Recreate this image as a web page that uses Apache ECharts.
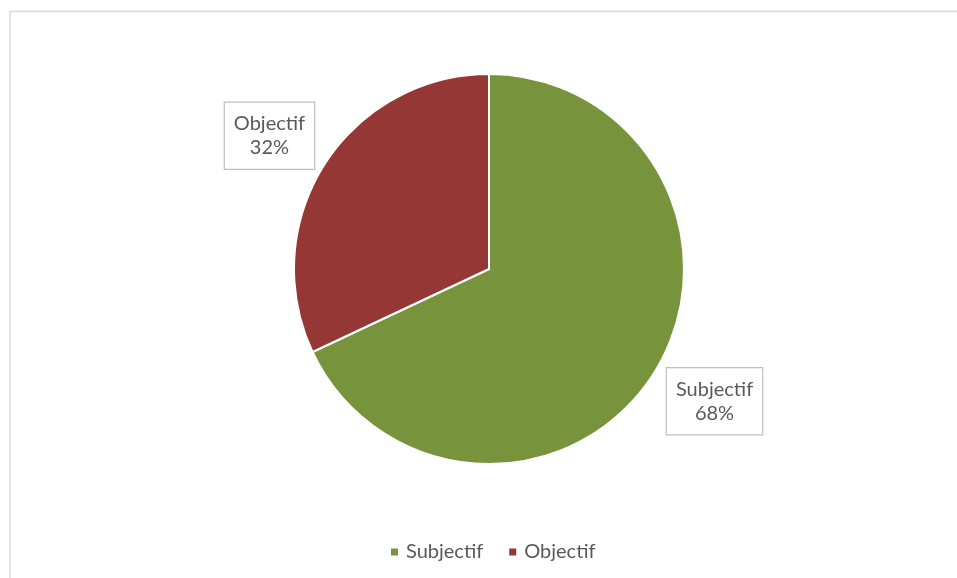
<!DOCTYPE html>
<html>
<head>
<meta charset="utf-8">
<script src="https://cdn.jsdelivr.net/npm/echarts@6/dist/echarts.min.js"></script>
<style>
html,body{margin:0;padding:0;background:#fff;}
#chart{width:957px;height:578px;}
</style>
</head>
<body>
<div id="chart"></div>
<script>
const categories = ['Subjectif', 'Objectif'];
const values = [68, 32];
const colors = ['#77933C', '#953735'];

const CX = 489, CY = 269, R = 195, LABEL_R = 260;
const total = values.reduce((a, b) => a + b, 0);
const midAngles = [];
(function () {
  let start = 90;
  values.forEach(v => {
    const span = v / total * 360;
    midAngles.push(start - span / 2);
    start -= span;
  });
})();
const FONT = 'Lato, "Open Sans", sans-serif';

const chart = echarts.init(document.getElementById('chart'));
chart.setOption({
  animation: false,
  backgroundColor: '#fff',
  textStyle: { fontFamily: FONT },
  graphic: [{
    type: 'rect',
    shape: { x: 10, y: 11.5, width: 2000, height: 2000 },
    style: { fill: 'none', stroke: '#d9d9d9', lineWidth: 1.5 },
    silent: true
  }],
  legend: {
    data: categories,
    left: 384,
    top: 537,
    itemWidth: 9,
    itemHeight: 9,
    itemGap: 24,
    icon: 'rect',
    textStyle: { fontSize: 20, color: '#595959', fontFamily: FONT, padding: [0, 0, 0, 2] }
  },
  series: [{
    type: 'pie',
    center: [CX, CY],
    radius: R,
    startAngle: 90,
    clockwise: true,
    itemStyle: { borderColor: '#fff', borderWidth: 2 },
    data: categories.map((c, i) => ({ name: c, value: values[i], itemStyle: { color: colors[i] } })),
    label: {
      show: true,
      position: 'outside',
      formatter: p => p.name + '\n' + Math.round(p.percent) + '%',
      fontSize: 20,
      lineHeight: 24,
      color: '#595959',
      align: 'center',
      backgroundColor: '#fff',
      borderColor: '#bfbfbf',
      borderWidth: 1.2,
      padding: [9, 9, 9, 9],
      fontFamily: FONT
    },
    labelLine: { show: false },
    labelLayout: function (params) {
      const a = midAngles[params.dataIndex] * Math.PI / 180;
      return {
        x: CX + LABEL_R * Math.cos(a) + (params.dataIndex === 0 ? 6 : 0),
        y: CY - LABEL_R * Math.sin(a) + (params.dataIndex === 0 ? -7 : 6),
        align: 'center',
        verticalAlign: 'middle'
      };
    }
  }]
});
</script>
</body>
</html>
